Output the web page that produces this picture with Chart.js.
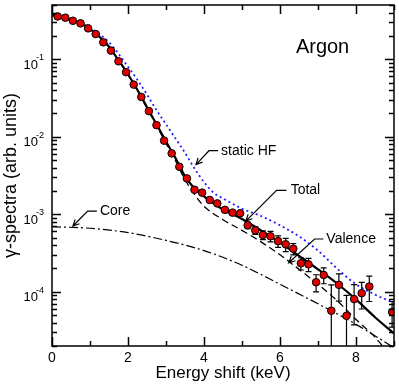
<!DOCTYPE html>
<html>
<head>
<meta charset="utf-8">
<script src="https://cdn.jsdelivr.net/npm/chart.js@4.4.0/dist/chart.umd.min.js"></script>
<style>
  html, body { margin: 0; padding: 0; background: #fff; }
  #wrap { width: 399px; height: 384px; }
</style>
</head>
<body>
<div id="wrap"><canvas id="spectrum"></canvas></div>
<script>
// measured spectrum (keV, arb. units)
var expX = [0.15, 0.35, 0.55, 0.75, 0.95, 1.15, 1.35, 1.55, 1.75, 1.95,
            2.15, 2.35, 2.55, 2.75, 2.95, 3.15, 3.35, 3.55, 3.75, 3.95,
            4.15, 4.35, 4.55, 4.75, 4.95, 5.15, 5.35, 5.55, 5.75, 5.95,
            6.15, 6.35, 6.55, 6.75, 6.95, 7.15, 7.35, 7.55, 7.75, 7.95,
            8.15, 8.35, 8.95];
var expY = [0.356, 0.343, 0.313, 0.29, 0.25, 0.211, 0.165, 0.129, 0.094, 0.068,
            0.047, 0.0326, 0.0214, 0.0141, 0.0089, 0.0061, 0.0041, 0.0029, 0.00207, 0.0019,
            0.00153, 0.00138, 0.00114, 0.00105, 0.00103, 0.00072, 0.00062, 0.00054, 0.00052, 0.00045,
            0.00041, 0.00036, 0.000233, 0.000226, 0.000133, 0.000165, 0.000057, 0.000123, 0.000049, 0.0000805,
            0.000096, 0.000117, 0.000055];
var expErr = [0, 0, 0, 0, 0, 0, 0, 0, 0, 0,
              0, 0, 0, 0, 0, 0, 0, 0, 0, 0,
              0, 0, 0, 0, 0, 0.00007, 0.00007, 0.00007, 0.00008, 0.000075,
              0.00008, 0.00006, 0.000042, 0.000044, 0.000033, 0.000038, 0.000066, 0.000047, 0.000041, 0.000043,
              0.000036, 0.000042, 0.00002];

// calculations
var totalX = [0, 0.25, 0.5, 0.75, 1, 1.25, 1.5, 1.75, 2, 2.25, 2.5, 2.75, 3, 3.25, 3.5, 3.75,
              4, 4.5, 5, 5.5, 6, 6.5, 7, 7.5, 8, 8.5, 9];
var totalY = [0.37, 0.35, 0.32, 0.29, 0.245, 0.195, 0.145, 0.097, 0.064, 0.04, 0.024, 0.0145, 0.0087, 0.0053, 0.0031, 0.00215,
              0.0017, 0.00115, 0.00087, 0.00062, 0.00043, 0.00029, 0.000195, 0.000128, 0.00008, 0.000047, 0.000029];
var valenceX = [0, 0.25, 0.5, 0.75, 1, 1.25, 1.5, 1.75, 2, 2.25, 2.5, 2.75, 3, 3.25, 3.5, 3.75,
                4, 4.5, 5, 5.5, 6, 6.5, 7, 7.5, 8, 8.5, 9];
var valenceY = [0.369, 0.349, 0.319, 0.289, 0.244, 0.194, 0.144, 0.096, 0.063, 0.039, 0.0235, 0.014, 0.0082, 0.0049, 0.0028, 0.0018,
                0.00127, 0.00085, 0.00062, 0.00044, 0.0003, 0.000195, 0.000125, 0.000077, 0.000044, 0.000026, 0.000013];
var coreX = [0, 1, 2, 3, 4, 5, 6, 7, 8, 9];
var coreY = [0.00069, 0.00066, 0.00058, 0.00046, 0.00034, 0.00022, 0.000125, 0.00007, 0.000038, 0.000019];
var hfX = [0, 0.5, 1, 1.5, 2, 2.25, 2.5, 2.75, 3, 3.25, 3.5, 3.75, 4, 4.25, 4.5,
           5, 5.5, 6, 6.5, 7, 7.5, 8, 8.5, 9];
var hfY = [0.37, 0.325, 0.255, 0.165, 0.08, 0.054, 0.035, 0.022, 0.0145, 0.0095, 0.0062, 0.0039, 0.0026, 0.0019, 0.0016,
           0.00118, 0.00095, 0.00072, 0.00052, 0.00034, 0.0002, 0.000125, 0.000092, 0.000072];

var xMajor = [0, 2, 4, 6, 8];
var yMajor = [1e-4, 1e-3, 1e-2, 1e-1];
var yMajorExp = ['-4', '-3', '-2', '-1'];

function pairs(xs, ys) {
  return xs.map(function(x, i) { return { x: x, y: ys[i] }; });
}

var notes = [
  { text: 'static HF', at: [4.45, 0.0066], path: [[4.37, 0.0066], [4.13, 0.0066], [3.79, 0.00437]] },
  { text: 'Total', at: [6.28, 0.00203], path: [[6.17, 0.00203], [5.91, 0.00203], [5.10, 0.000817]] },
  { text: 'Valence', at: [7.22, 0.00048], path: [[7.14, 0.00048], [6.91, 0.00048], [6.23, 0.000237]] },
  { text: 'Core', at: [1.26, 0.0011], path: [[1.18, 0.0011], [0.94, 0.0011], [0.55, 0.000705]] }
];

var FONT = '"Liberation Sans", Arial, Helvetica, sans-serif';

// error bars, drawn right before the markers
var errorBars = {
  id: 'errorBars',
  beforeDatasetDraw: function(chart, args) {
    if (args.index !== 0) return;
    var ctx = chart.ctx, a = chart.chartArea;
    var xs = chart.scales.x, ys = chart.scales.y;
    ctx.save();
    ctx.beginPath();
    ctx.rect(a.left, a.top, a.right - a.left, a.bottom - a.top);
    ctx.clip();
    ctx.strokeStyle = '#000';
    ctx.lineWidth = 1.2;
    ctx.beginPath();
    expX.forEach(function(x, i) {
      var e = expErr[i];
      if (!e) return;
      var px = xs.getPixelForValue(x);
      var hi = ys.getPixelForValue(expY[i] + e);
      var lo = expY[i] - e > 0 ? ys.getPixelForValue(expY[i] - e) : a.bottom + 5;
      ctx.moveTo(px, hi); ctx.lineTo(px, lo);
      ctx.moveTo(px - 3, hi); ctx.lineTo(px + 3, hi);
      ctx.moveTo(px - 3, lo); ctx.lineTo(px + 3, lo);
    });
    ctx.stroke();
    ctx.restore();
  }
};

// box, inward ticks, y labels with exponents, annotations
var frameAndNotes = {
  id: 'frameAndNotes',
  afterDraw: function(chart) {
    var ctx = chart.ctx, a = chart.chartArea;
    var xs = chart.scales.x, ys = chart.scales.y;
    ctx.save();
    ctx.strokeStyle = '#000';
    ctx.lineWidth = 1.5;
    ctx.strokeRect(a.left, a.top, a.right - a.left, a.bottom - a.top);

    ctx.beginPath();
    for (var v = 0; v <= 9; v++) {
      var len = v % 2 === 0 ? 9 : 5;
      var px = Math.round(xs.getPixelForValue(v)) + 0.5;
      ctx.moveTo(px, a.bottom); ctx.lineTo(px, a.bottom - len);
      ctx.moveTo(px, a.top); ctx.lineTo(px, a.top + len);
    }
    for (var e = -5; e <= -1; e++) {
      for (var m = 1; m <= 9; m++) {
        var val = m * Math.pow(10, e);
        if (val < ys.min * 0.999 || val > ys.max * 1.001) continue;
        var l2 = m === 1 ? 9 : 5;
        var py = Math.round(ys.getPixelForValue(val)) + 0.5;
        ctx.moveTo(a.left, py); ctx.lineTo(a.left + l2, py);
        ctx.moveTo(a.right, py); ctx.lineTo(a.right - l2, py);
      }
    }
    ctx.stroke();

    // y tick labels: 10 with raised exponent
    ctx.fillStyle = '#000';
    ctx.textBaseline = 'alphabetic';
    yMajor.forEach(function(val, i) {
      var py = ys.getPixelForValue(val);
      ctx.textAlign = 'right';
      ctx.font = '9px ' + FONT;
      ctx.fillText(yMajorExp[i], 44, py + 1);
      ctx.font = '13px ' + FONT;
      ctx.fillText('10', 38, py + 9.5);
    });

    // labels and leader arrows
    ctx.font = '14px ' + FONT;
    ctx.textAlign = 'left';
    ctx.textBaseline = 'middle';
    ctx.lineWidth = 1.2;
    notes.forEach(function(n) {
      ctx.fillText(n.text, xs.getPixelForValue(n.at[0]), ys.getPixelForValue(n.at[1]));
      var pts = n.path.map(function(p) { return [xs.getPixelForValue(p[0]), ys.getPixelForValue(p[1])]; });
      ctx.beginPath();
      ctx.moveTo(pts[0][0], pts[0][1]);
      for (var k = 1; k < pts.length; k++) ctx.lineTo(pts[k][0], pts[k][1]);
      var p1 = pts[pts.length - 2], p2 = pts[pts.length - 1];
      var ang = Math.atan2(p2[1] - p1[1], p2[0] - p1[0]);
      var hl = 7, spread = 0.45;
      ctx.moveTo(p2[0] - hl * Math.cos(ang - spread), p2[1] - hl * Math.sin(ang - spread));
      ctx.lineTo(p2[0], p2[1]);
      ctx.lineTo(p2[0] - hl * Math.cos(ang + spread), p2[1] - hl * Math.sin(ang + spread));
      ctx.stroke();
    });

    ctx.font = '20px ' + FONT;
    ctx.textAlign = 'center';
    ctx.fillText('Argon', xs.getPixelForValue(7.12), ys.getPixelForValue(0.141));
    ctx.restore();
  }
};

var ctx1 = document.getElementById('spectrum').getContext('2d');
new Chart(ctx1, {
  type: 'scatter',
  data: {
    datasets: [{
      label: 'experiment',
      data: pairs(expX, expY),
      backgroundColor: '#e00000',
      borderColor: '#000',
      borderWidth: 1,
      pointRadius: 3.8,
      clip: 0,
      order: 0
    }, {
      label: 'Total',
      data: pairs(totalX, totalY),
      showLine: true,
      borderColor: '#000',
      borderWidth: 2.2,
      pointRadius: 0,
      cubicInterpolationMode: 'monotone',
      clip: 0,
      order: 1
    }, {
      label: 'Valence',
      data: pairs(valenceX, valenceY),
      showLine: true,
      borderColor: '#000',
      borderWidth: 1.3,
      borderDash: [7, 4],
      pointRadius: 0,
      cubicInterpolationMode: 'monotone',
      clip: 0,
      order: 2
    }, {
      label: 'Core',
      data: pairs(coreX, coreY),
      showLine: true,
      borderColor: '#000',
      borderWidth: 1.2,
      borderDash: [9, 3, 2, 3],
      pointRadius: 0,
      cubicInterpolationMode: 'monotone',
      clip: 0,
      order: 3
    }, {
      label: 'static HF',
      data: pairs(hfX, hfY),
      showLine: true,
      borderColor: '#1e1eff',
      borderWidth: 1.8,
      borderDash: [2, 3],
      pointRadius: 0,
      cubicInterpolationMode: 'monotone',
      clip: 0,
      order: 4
    }]
  },
  options: {
    responsive: true,
    maintainAspectRatio: false,
    animation: false,
    layout: { padding: { left: 0, top: 2, right: 3, bottom: 0 } },
    plugins: {
      legend: { display: false },
      tooltip: { enabled: false }
    },
    scales: {
      x: {
        type: 'linear',
        min: 0,
        max: 9,
        grid: { display: false, drawTicks: false },
        border: { display: false },
        ticks: {
          stepSize: 2,
          includeBounds: false,
          padding: 4,
          color: '#000',
          font: { family: FONT, size: 14 }
        },
        title: {
          display: true,
          text: 'Energy shift (keV)',
          color: '#000',
          padding: 0,
          font: { family: FONT, size: 17 }
        },
        afterFit: function(scale) { scale.height = 38; }
      },
      y: {
        type: 'logarithmic',
        min: 2e-5,
        max: 0.5,
        grid: { display: false },
        border: { display: false },
        ticks: { display: false },
        title: {
          display: true,
          text: 'γ-spectra (arb. units)',
          color: '#000',
          padding: 0,
          font: { family: FONT, size: 18 }
        },
        afterFit: function(scale) { scale.width = 52; }
      }
    }
  },
  plugins: [errorBars, frameAndNotes]
});
</script>
</body>
</html>
